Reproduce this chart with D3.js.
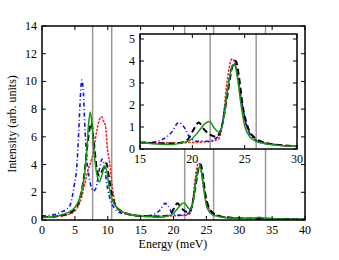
<!DOCTYPE html>
<html>
<head>
<meta charset="utf-8">
<script src="https://cdn.jsdelivr.net/npm/d3@7"></script>
<style>
  html, body { margin: 0; padding: 0; background: #fff; }
  svg text { font-family: 'Liberation Serif', 'DejaVu Serif', serif; fill: #000; }
</style>
</head>
<body>
<div id="chart"></div>
<script>
// Energy (meV) / intensity pairs
var greenSolid = [[0,0.2],[1,0.22],[2,0.28],[3,0.38],[4,0.55],[5,0.9],[5.5,1.3],[6,2.0],[6.5,3.4],[6.8,5.0],[7.1,7.0],[7.35,7.8],[7.6,7.0],[7.9,5.0],[8.3,3.4],[8.7,2.75],[9.1,3.2],[9.55,3.9],[9.85,3.5],[10.2,2.4],[10.6,1.6],[11,1.15],[12,0.65],[13,0.45],[14,0.35],[16,0.25],[18,0.2],[19,0.28],[19.8,0.4],[20.7,0.86],[21.2,1.15],[21.65,1.25],[22.1,0.95],[22.6,0.75],[23,1.4],[23.4,2.8],[23.8,3.75],[24,3.85],[24.3,3.3],[24.6,2.2],[25,1.05],[25.5,0.55],[26,0.37],[27,0.24],[28,0.17],[30,0.12],[32,0.12],[33,0.2],[34,0.12],[36,0.08],[40,0.05]];
var blueDashDot = [[0,0.3],[1,0.32],[2,0.42],[3,0.6],[3.7,0.75],[4.3,1.1],[4.9,2.5],[5.3,3.9],[5.6,6.5],[5.85,9.0],[6.05,10.1],[6.3,9.2],[6.5,6.9],[6.8,4.5],[7.2,3.0],[7.8,2.1],[8.2,2.3],[8.7,3.6],[9.15,4.4],[9.5,3.8],[10,2.2],[10.5,1.3],[11,0.85],[12,0.5],[13,0.4],[15,0.3],[16,0.3],[17,0.4],[18,0.75],[18.7,1.2],[19.2,1.0],[19.8,0.5],[20.5,0.35],[21.5,0.35],[22.3,0.5],[22.8,1.0],[23.3,2.5],[23.7,3.6],[24,3.9],[24.3,3.4],[24.7,2.2],[25.1,1.2],[25.6,0.6],[26.2,0.35],[27,0.25],[28,0.18],[30,0.12],[35,0.08],[40,0.05]];
var redDotted = [[0,0.2],[2,0.25],[4,0.4],[5,0.65],[6,1.6],[6.5,2.6],[7,3.6],[7.5,4.3],[7.8,4.8],[8.1,5.8],[8.4,6.6],[8.7,7.2],[9.05,7.45],[9.4,7.1],[9.65,6.8],[9.9,5.4],[10.3,4.1],[10.75,2.2],[11.4,0.9],[12,0.65],[13,0.45],[14,0.35],[16,0.28],[18,0.28],[20,0.3],[21.5,0.33],[22.5,0.45],[22.9,1.2],[23.3,3.0],[23.8,4.1],[24.1,3.9],[24.5,2.6],[25,1.3],[25.5,0.7],[26,0.45],[27,0.28],[28,0.2],[30,0.12],[35,0.08],[40,0.05]];
var blackDashed = [[0,0.2],[2,0.25],[4,0.45],[5,0.8],[5.5,1.2],[6,2.0],[6.5,3.5],[7,5.8],[7.5,7.0],[7.9,5.5],[8.3,3.8],[8.7,3.2],[9.2,3.6],[9.8,4.1],[10.2,3.0],[10.6,1.9],[11,1.2],[12,0.65],[13,0.45],[14,0.35],[16,0.27],[18,0.25],[19,0.3],[19.6,0.45],[20.2,0.95],[20.6,1.2],[21.2,0.85],[21.7,0.65],[22.3,0.55],[22.8,1.0],[23.3,2.3],[23.8,3.7],[24.15,4.0],[24.45,3.3],[24.8,2.0],[25.3,1.0],[26,0.5],[27,0.28],[28,0.2],[30,0.13],[35,0.08],[40,0.05]];
var markerLines = [7.7, 10.6, 21.7, 26.1, 34.0];
var mainXTicks = [0, 5, 10, 15, 20, 25, 30, 35, 40];
var mainYTicks = [0, 2, 4, 6, 8, 10, 12, 14];
var insetXTicks = [15, 20, 25, 30];
var insetYTicks = [0, 1, 2, 3, 4, 5];

var W = 339, H = 260;
var svg = d3.select('#chart').append('svg').attr('width', W).attr('height', H);

var series = [
    { data: redDotted,   color: '#ff2020', width: 1.6, dash: '1.2,2.6', cap: 'round' },
    { data: blueDashDot, color: '#1010ff', width: 1.6, dash: '4,2.5,1,2.5', cap: 'butt' },
    { data: blackDashed, color: '#000',    width: 2,   dash: '6,3.5', cap: 'butt' },
    { data: greenSolid,  color: '#119911', width: 1.5, dash: null, cap: 'butt' }
];

// draws frame + ticks + marker lines + curves into a panel
function panel(opts) {
    var x = d3.scaleLinear().domain(opts.xDomain).range([opts.left, opts.right]);
    var y = d3.scaleLinear().domain(opts.yDomain).range([opts.bottom, opts.top]);
    var g = svg.append('g');

    var clipId = 'clip-' + opts.name;
    svg.append('clipPath').attr('id', clipId).append('rect')
        .attr('x', opts.left).attr('y', opts.top)
        .attr('width', opts.right - opts.left).attr('height', opts.bottom - opts.top);

    g.append('rect')
        .attr('x', opts.left).attr('y', opts.top)
        .attr('width', opts.right - opts.left).attr('height', opts.bottom - opts.top)
        .attr('fill', '#fff');

    var inner = g.append('g').attr('clip-path', 'url(#' + clipId + ')');

    inner.selectAll('line.vm').data(markerLines).join('line')
        .attr('x1', function (d) { return x(d); }).attr('x2', function (d) { return x(d); })
        .attr('y1', opts.top).attr('y2', opts.bottom)
        .attr('stroke', '#999').attr('stroke-width', 1.5);

    var line = d3.line()
        .x(function (d) { return x(d[0]); })
        .y(function (d) { return y(d[1]); })
        .curve(d3.curveMonotoneX);

    series.forEach(function (s) {
        inner.append('path').datum(s.data)
            .attr('d', line)
            .attr('fill', 'none')
            .attr('stroke', s.color)
            .attr('stroke-width', s.width)
            .attr('stroke-linecap', s.cap)
            .attr('stroke-dasharray', s.dash);
    });

    // mirrored inward ticks
    var tl = 4;
    g.selectAll('line.xt').data(opts.xTicks).join('line')
        .attr('x1', function (d) { return x(d); }).attr('x2', function (d) { return x(d); })
        .attr('y1', opts.bottom).attr('y2', opts.bottom - tl)
        .attr('stroke', '#000').attr('stroke-width', 1);
    g.selectAll('line.xt2').data(opts.xTicks).join('line')
        .attr('x1', function (d) { return x(d); }).attr('x2', function (d) { return x(d); })
        .attr('y1', opts.top).attr('y2', opts.top + tl)
        .attr('stroke', '#000').attr('stroke-width', 1);
    g.selectAll('line.yt').data(opts.yTicks).join('line')
        .attr('x1', opts.left).attr('x2', opts.left + tl)
        .attr('y1', function (d) { return y(d); }).attr('y2', function (d) { return y(d); })
        .attr('stroke', '#000').attr('stroke-width', 1);
    g.selectAll('line.yt2').data(opts.yTicks).join('line')
        .attr('x1', opts.right).attr('x2', opts.right - tl)
        .attr('y1', function (d) { return y(d); }).attr('y2', function (d) { return y(d); })
        .attr('stroke', '#000').attr('stroke-width', 1);

    g.append('rect')
        .attr('x', opts.left).attr('y', opts.top)
        .attr('width', opts.right - opts.left).attr('height', opts.bottom - opts.top)
        .attr('fill', 'none').attr('stroke', '#000').attr('stroke-width', 1.5);

    g.selectAll('text.xl').data(opts.xTicks).join('text')
        .attr('x', function (d) { return x(d); })
        .attr('y', opts.bottom + 14)
        .attr('text-anchor', 'middle')
        .attr('font-size', opts.fs)
        .text(function (d) { return d; });
    g.selectAll('text.yl').data(opts.yTicks).join('text')
        .attr('x', opts.left - 5)
        .attr('y', function (d) { return y(d) + 4; })
        .attr('text-anchor', 'end')
        .attr('font-size', opts.fs)
        .text(function (d) { return d; });

    return { x: x, y: y, g: g };
}

panel({ name: 'main', left: 42, right: 305, top: 26, bottom: 220,
        xDomain: [0, 40], yDomain: [0, 14],
        xTicks: mainXTicks, yTicks: mainYTicks, fs: 12 });

panel({ name: 'inset', left: 140, right: 297, top: 34, bottom: 149,
        xDomain: [15, 30], yDomain: [0, 5.227],
        xTicks: insetXTicks, yTicks: insetYTicks, fs: 12 });

svg.append('text')
    .attr('x', 173).attr('y', 248)
    .attr('text-anchor', 'middle').attr('font-size', 12)
    .text('Energy (meV)');

svg.append('text')
    .attr('transform', 'translate(16,124) rotate(-90)')
    .attr('text-anchor', 'middle').attr('font-size', 12)
    .text('Intensity (arb. units)');
</script>
</body>
</html>
